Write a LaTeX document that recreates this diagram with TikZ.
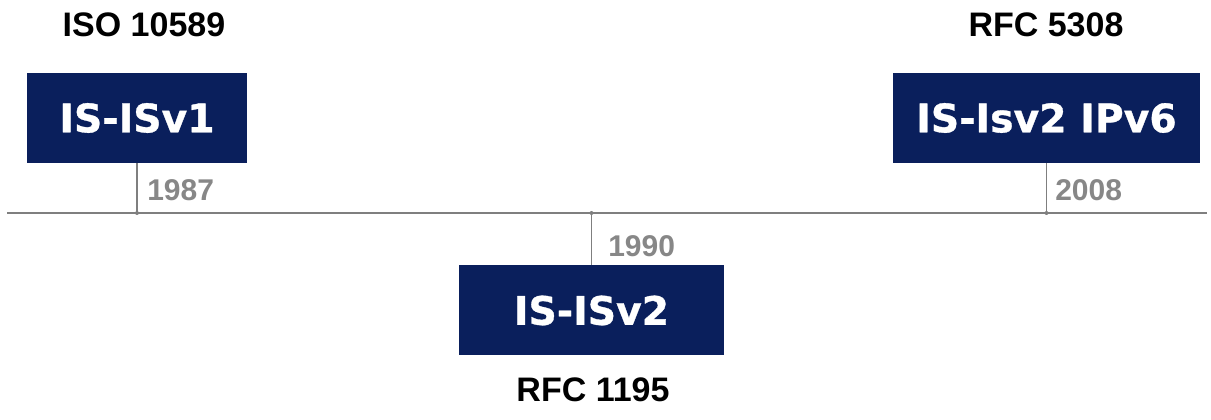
\documentclass[tikz,border=0pt]{standalone}
\usepackage{fontspec}
\setmainfont{Liberation Sans}
\newfontfamily\boxfont{DejaVu Sans Bold}[FakeBold=0.8]
\definecolor{isnavy}{HTML}{0A1F5C}
\definecolor{yeargray}{HTML}{878787}
\definecolor{linegray}{HTML}{7F7F7F}

\begin{document}
\begin{tikzpicture}[x=0.75pt,y=-0.75pt,
		verbox/.style={fill=isnavy,text=white,font=\boxfont\fontsize{29.5pt}{32pt}\selectfont,minimum height=67.5pt,inner sep=0pt},
		yearlbl/.style={text=yeargray,font=\bfseries\fontsize{22.5pt}{24pt}\selectfont,anchor=west,inner sep=0pt},
		stdlbl/.style={font=\bfseries\fontsize{25.5pt}{28pt}\selectfont,inner sep=0pt},
		stem/.style={draw=linegray,line width=0.8pt}]
	\useasboundingbox (0,0) rectangle (1211,420);
	
	\coordinate (tlL) at (7,213);
	\coordinate (tlR) at (1207,213);
	\draw[linegray,line width=1pt] (tlL)--(tlR);
	
	\node[verbox,minimum width=165pt] (v1) at (137,118) {IS-ISv1};
	\node[verbox,minimum width=198.75pt] (v2) at (591.5,310.5) {IS-ISv2};
	\node[verbox,minimum width=230.25pt] (v6) at (1046.5,118) {IS-Isv2 IPv6};
	
	\coordinate (t1) at (137,213);
	\coordinate (t2) at (591.5,213);
	\coordinate (t6) at (1046.5,213);
	\draw[stem] (v1.south)--(t1);
	\draw[stem] (v2.north)--(t2);
	\draw[stem] (v6.south)--(t6);
	\fill[linegray] (t1) circle (2);
	\fill[linegray] (t2) circle (2);
	\fill[linegray] (t6) circle (2);
	
	\node[yearlbl] (y1) at (147,190) {1987};
	\node[yearlbl] (y2) at (608,246) {1990};
	\node[yearlbl] (y6) at (1055,190) {2008};
	
	\node[stdlbl] (s1) at (144,25) {ISO 10589};
	\node[stdlbl] (s2) at (593,390) {RFC 1195};
	\node[stdlbl] (s6) at (1046,25) {RFC 5308};
\end{tikzpicture}
\end{document}
